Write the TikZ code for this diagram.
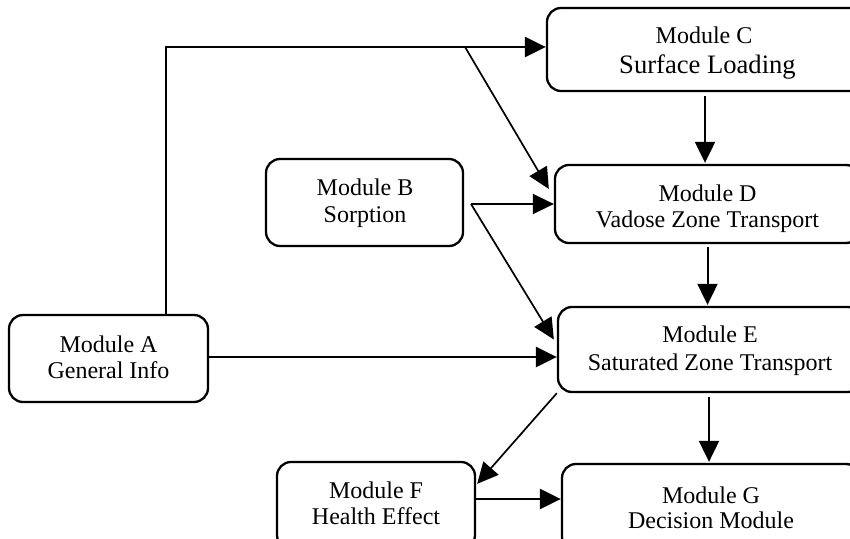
\documentclass[tikz,border=0pt]{standalone}
\usepackage{fontspec}
\setmainfont{Liberation Serif}
\usetikzlibrary{arrows.meta,calc}
\begin{document}
\begin{tikzpicture}[x=0.5pt,y=-0.5pt,
  box/.style={draw, line width=1.15pt, rounded corners=7pt, inner sep=0pt},
  txt/.style={anchor=base, inner sep=0pt, font=\fontsize{12pt}{13.5pt}\selectfont},
  bigtxt/.style={anchor=base, inner sep=0pt, font=\fontsize{13.3pt}{15pt}\selectfont},
  tip/.style={-{Triangle[length=10.5pt,width=10pt]}},
  thickline/.style={line width=1.35pt},
  thinline/.style={line width=0.85pt},
  vline/.style={line width=1pt}]
\useasboundingbox (0,0) rectangle (850,539);
\clip (0,0) rectangle (850,539);
% boxes
\node[box, minimum width=99.5pt, minimum height=43.5pt] (A) at (108.5,358.5) {};
\node[box, minimum width=98.5pt, minimum height=43.5pt] (B) at (364.5,202.5) {};
\node[box, minimum width=159pt, minimum height=41.5pt] (C) at (706,49.5) {};
\node[box, minimum width=152.5pt, minimum height=39pt] (D) at (707.5,204) {};
\node[box, minimum width=152pt, minimum height=42.5pt] (E) at (710,349.5) {};
\node[box, minimum width=99pt, minimum height=43.5pt] (F) at (376,505.5) {};
\node[box, minimum width=149pt, minimum height=43.5pt] (G) at (711,507.5) {};
% texts
\node[txt] (At1) at (108.5,352) {Module A};
\node[txt] (At2) at (108.5,379) {General Info};
\node[txt] (Bt1) at (365,196) {Module B};
\node[txt] (Bt2) at (365,223) {Sorption};
\node[txt] (Ct1) at (704,44) {Module C};
\node[bigtxt] (Ct2) at (707.5,74) {Surface Loading};
\node[txt] (Dt1) at (707.5,202) {Module D};
\node[txt] (Dt2) at (707.5,228) {Vadose Zone Transport};
\node[txt] (Et1) at (710,343) {Module E};
\node[txt] (Et2) at (710,371) {Saturated Zone Transport};
\node[txt] (Ft1) at (376,498) {Module F};
\node[txt] (Ft2) at (376,524) {Health Effect};
\node[txt] (Gt1) at (711,503) {Module G};
\node[txt] (Gt2) at (711,528) {Decision Module};
% junctions
\coordinate (j1) at (166,47);
\coordinate (j2) at (465,47);
\coordinate (bj) at (471,204);
% connectors
\draw[thickline,tip] (j1 |- A.north) -- (j1) -- (j1 -| C.west);
\draw[thinline,tip] (j2) -- ($(D.west)+(-5,-15)$);
\draw[thinline,tip] (bj) -- (D.west);
\draw[thinline,tip] (bj) -- ($(E.west)+(-3,-10)$);
\draw[thickline,tip] ($(A.east)+(0,-1.5)$) -- ($(A.east -| E.west)+(0,-1.5)$);
\draw[vline,tip] ($(C.south)+(-1,4)$) -- ($(C.south |- D.north)+(-1,-1)$);
\draw[vline,tip] ($(D.south)+(0,3)$) -- ($(D.south |- E.north)+(0,-1)$);
\draw[vline,tip] ($(E.south)+(-1,4)$) -- ($(E.south |- G.north)+(-1,-1)$);
\draw[thinline,tip] (E.south west) -- ($(F.north east)+(1,23)$);
\draw[thickline,tip] ($(F.east)+(0,-6.5)$) -- ($(F.east -| G.west)+(0,-6.5)$);
\end{tikzpicture}
\end{document}
